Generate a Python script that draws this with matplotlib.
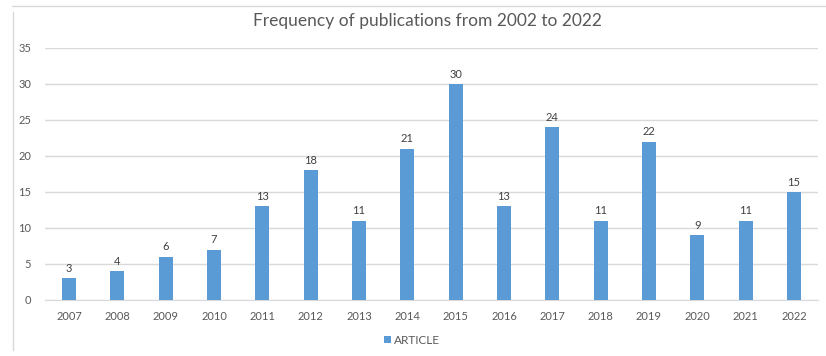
import matplotlib.pyplot as plt
from matplotlib.lines import Line2D
import numpy as np

years = ['2007', '2008', '2009', '2010', '2011', '2012', '2013', '2014',
         '2015', '2016', '2017', '2018', '2019', '2020', '2021', '2022']
articles = [3, 4, 6, 7, 13, 18, 11, 21, 30, 13, 24, 11, 22, 9, 11, 15]

bar_color = '#5B9BD5'
text_color = '#595959'
grid_color = '#D9D9D9'

plt.rcParams['font.family'] = ['Lato', 'DejaVu Sans']

fig = plt.figure(figsize=(8.26, 3.56), dpi=100)
ax = fig.add_axes([45 / 826, 1 - 300 / 356, 773 / 826, 252 / 356])

x = np.arange(len(years))
bars = ax.bar(x, articles, width=0.29, color=bar_color, label='ARTICLE', zorder=3)
for xi, v in zip(x, articles):
    ax.text(xi, v + 0.6, str(v), ha='center', va='bottom', fontsize=8, color='#404040')

ax.set_xlim(-0.5, len(years) - 0.5)
ax.set_ylim(0, 35)
ax.set_yticks(range(0, 36, 5))
ax.set_xticks(x)
ax.set_xticklabels(years)
ax.yaxis.grid(True, color=grid_color, linewidth=1, zorder=0)
ax.tick_params(length=0, labelsize=8, colors=text_color)
ax.tick_params(axis='x', pad=8)
ax.tick_params(axis='y', pad=10)
for side in ['top', 'right', 'left']:
    ax.spines[side].set_visible(False)
ax.spines['bottom'].set_color(grid_color)

fig.text(427 / 826, 1 - 21 / 356, 'Frequency of publications from 2002 to 2022',
         ha='center', va='center', fontsize=12.5, color=text_color)

fig.legend(handles=[bars], loc='center', bbox_to_anchor=(412 / 826, 1 - 340 / 356),
           frameon=False, fontsize=8.5, labelcolor=text_color,
           handlelength=0.6, handleheight=0.6, handletextpad=0.3)

# outer chart border (top and left edges)
fig.add_artist(Line2D([12 / 826, 1], [1 - 6 / 356, 1 - 6 / 356], color=grid_color, linewidth=1))
fig.add_artist(Line2D([13 / 826, 13 / 826], [1 - 12 / 356, 1 - 350 / 356], color=grid_color, linewidth=1))

fig.savefig('out.png', dpi=100, facecolor='white')
